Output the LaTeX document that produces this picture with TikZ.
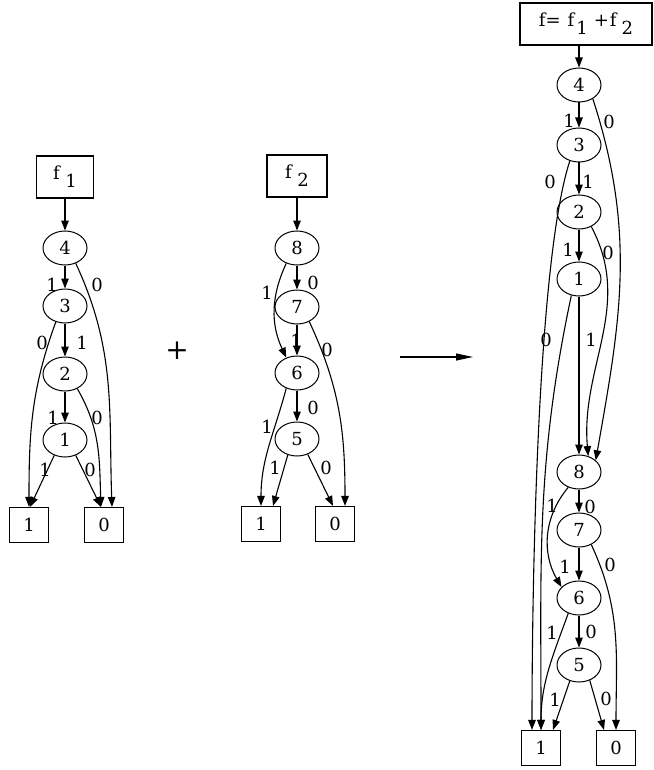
\documentclass[tikz,border=0pt]{standalone}
\usepackage{fontspec}
\setmainfont{DejaVu Serif}
\usetikzlibrary{shapes.geometric,arrows.meta}
\tikzset{>={Triangle[length=10pt,width=7.5pt]}}
\tikzset{
  var/.style={draw,ellipse,minimum width=44pt,minimum height=34pt,inner sep=0pt,line width=1pt},
  leaf/.style={draw,rectangle,minimum width=39pt,minimum height=35pt,inner sep=0pt,line width=1.1pt},
  func/.style={draw,rectangle,minimum height=42pt,inner sep=0pt,line width=1.1pt},
  lbl/.style={inner sep=0pt},
  branch/.style={->,line width=1.1pt},
}
\newcommand{\lowidx}[1]{\hspace{0.3em}\raisebox{-0.45em}{#1}}

\begin{document}
\begin{tikzpicture}[x=1pt,y=1pt,font=\fontsize{18}{21}\selectfont]
      \useasboundingbox (0,0) rectangle (653,-770);
      % f_1
      \node[func,minimum width=57pt] (f1) at (65,-177) {f\lowidx{1}};
      \node[var] (a4) at (65,-248) {4};
      \node[var] (a3) at (65,-306) {3};
      \node[var] (a2) at (65,-374) {2};
      \node[var] (a1) at (65,-440) {1};
      \node[leaf] (aone) at (29,-525) {1};
      \node[leaf] (azero) at (104,-525) {0};
      \draw[branch] (f1) -- (a4);
      \draw[branch] (a4) -- (a3) node[lbl] at (52,-285) {1};
      \draw[branch] (a4.-55) to[out=-65,in=92] ([xshift=8pt]azero.north) node[lbl] at (97,-285) {0};
      \draw[branch] (a3) -- (a2) node[lbl] at (82,-343) {1};
      \draw[branch] (a3.-120) to[out=-110,in=90] (aone.north) node[lbl] at (42,-343) {0};
      \draw[branch] (a2) -- (a1) node[lbl] at (53,-418) {1};
      \draw[branch] (a2.-50) to[out=-60,in=92] ([xshift=-3pt]azero.north) node[lbl] at (97,-418) {0};
      \draw[branch] (a1.-125) -- ([xshift=1pt]aone.north) node[lbl] at (45,-470) {1};
      \draw[branch] (a1.-55) -- ([xshift=-3pt]azero.north) node[lbl] at (90,-470) {0};
      % f_2
      \node[func,minimum width=60pt] (f2) at (297,-176) {f\lowidx{2}};
      \node[var] (b8) at (297,-248) {8};
      \node[var] (b7) at (297,-307) {7};
      \node[var] (b6) at (297,-373) {6};
      \node[var] (b5) at (297,-439) {5};
      \node[leaf] (bone) at (261,-524) {1};
      \node[leaf] (bzero) at (335,-524) {0};
      \draw[branch] (f2) -- (b8);
      \draw[branch] (b8) -- (b7) node[lbl] at (313,-283) {0};
      \draw[branch] (b8.-125) to[out=-115,in=115] (b6.125) node[lbl] at (267,-293) {1};
      \draw[branch] (b7) -- (b6) node[lbl] at (296,-341) {1};
      \draw[branch] (b7.-50) to[out=-65,in=90] ([xshift=10pt]bzero.north) node[lbl] at (327,-350) {0};
      \draw[branch] (b6) -- (b5) node[lbl] at (313,-408) {0};
      \draw[branch] (b6.-125) to[out=-105,in=90] (bone.north) node[lbl] at (267,-427) {1};
      \draw[branch] (b5.-120) -- ([xshift=12pt]bone.north) node[lbl] at (275,-468) {1};
      \draw[branch] (b5.-55) -- ([xshift=-2pt]bzero.north) node[lbl] at (326,-468) {0};
      % plus and arrow
      \node[font=\fontsize{28}{28}\selectfont] (plus) at (177,-351) {+};
      \coordinate (arrs) at (400,-357);
      \coordinate (arre) at (473,-357);
      \draw[-{Triangle[length=17pt,width=7pt]},line width=1.1pt] (arrs) -- (arre);
      % f = f_1 + f_2
      \node[func,minimum width=132pt] (f) at (586,-24)
        {f=\hspace{7pt}f\hspace{2pt}\raisebox{-0.45em}{1}\hspace{6pt}+\hspace{1pt}f\hspace{5pt}\raisebox{-0.45em}{2}};
      \node[var] (c4) at (579,-85) {4};
      \node[var] (c3) at (579,-145) {3};
      \node[var] (c2) at (579,-212) {2};
      \node[var] (c1) at (579,-279) {1};
      \node[var] (c8) at (579,-472) {8};
      \node[var] (c7) at (579,-530) {7};
      \node[var] (c6) at (579,-598) {6};
      \node[var] (c5) at (579,-665) {5};
      \node[leaf] (cone) at (541,-748) {1};
      \node[leaf] (czero) at (616,-748) {0};
      \draw[branch] (c4 |- f.south) -- (c4);
      \draw[branch] (c4) -- (c3) node[lbl] at (569,-121) {1};
      \draw[branch] (c4.-45) to[out=-72,in=80] (c8.35) node[lbl] at (609,-122) {0};
      \draw[branch] (c3) -- (c2) node[lbl] at (588,-182) {1};
      \draw[branch] (c3.-120) to[out=-108,in=90,looseness=0.5] ([xshift=-9pt]cone.north) node[lbl] at (550,-182) {0};
      \draw[branch] (c2) -- (c1) node[lbl] at (568,-250) {1};
      \draw[branch] (c2.-50) to[out=-62,in=95] (c8.60) node[lbl] at (608,-253) {0};
      \draw[branch] (c1) -- (c8) node[lbl] at (591,-340) {1};
      \draw[branch] (c1.-115) to[out=-102,in=90] (cone.north) node[lbl] at (546,-340) {0};
      \draw[branch] (c8) -- (c7) node[lbl] at (590,-507) {0};
      \draw[branch] (c8.-125) to[out=-130,in=120] (c6.148) node[lbl] at (552,-506) {1};
      \draw[branch] (c7) -- (c6) node[lbl] at (565,-567) {1};
      \draw[branch] (c7.-50) to[out=-65,in=90] (czero.north) node[lbl] at (610,-565) {0};
      \draw[branch] (c6) -- (c5) node[lbl] at (591,-632) {0};
      \draw[branch] (c6.-125) to[out=-110,in=90] (cone.north) node[lbl] at (552,-633) {1};
      \draw[branch] (c5.-120) -- ([xshift=12pt]cone.north) node[lbl] at (555,-700) {1};
      \draw[branch] (c5.-55) -- ([xshift=-12pt]czero.north) node[lbl] at (606,-699) {0};
\end{tikzpicture}
\end{document}
